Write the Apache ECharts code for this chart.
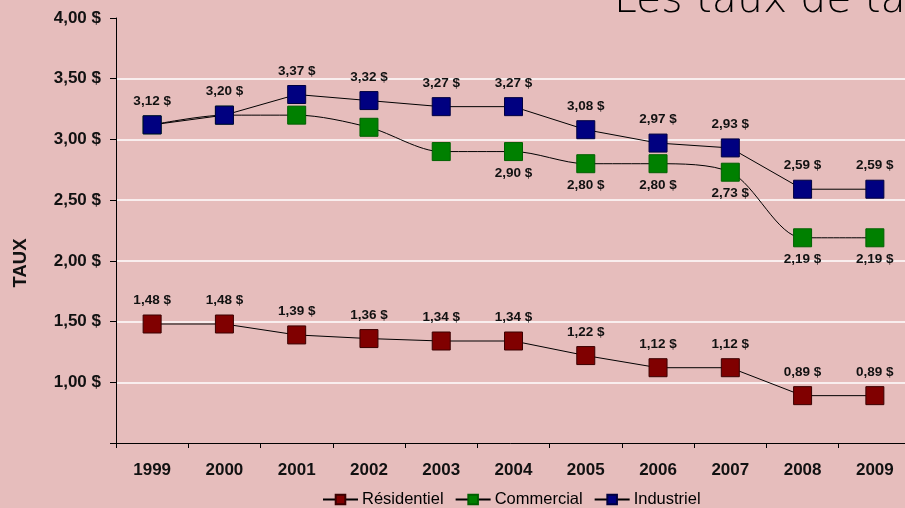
<!DOCTYPE html>
<html><head><meta charset="utf-8">
<script src="https://cdn.jsdelivr.net/npm/echarts@6/dist/echarts.min.js"></script>
<style>html,body{margin:0;padding:0;background:#e6bdbc;}#c{width:905px;height:508px;}</style>
</head><body><div id="c"></div>
<script>
const years = ['1999','2000','2001','2002','2003','2004','2005','2006','2007','2008','2009'];
const residentiel = [1.48,1.48,1.39,1.36,1.34,1.34,1.22,1.12,1.12,0.89,0.89];
const commercial = [3.12,3.20,3.20,3.10,2.90,2.90,2.80,2.80,2.73,2.19,2.19];
const industriel = [3.12,3.20,3.37,3.32,3.27,3.27,3.08,2.97,2.93,2.59,2.59];
const commercialLabelShown = [false,false,false,false,false,true,true,true,true,true,true];

const fmt = v => v.toFixed(2).replace('.', ',') + ' $';
const font = '"Liberation Sans", Arial, sans-serif';
const lbl = (pos, d) => ({show:true, position:pos, distance:d, fontFamily:font, fontSize:13.5, fontWeight:'bold', color:'#111',
  formatter: p => fmt(p.value)});

const chart = echarts.init(document.getElementById('c'));
chart.setOption({
  backgroundColor:'#e6bdbc',
  animation:false,
  title:{text:'Les taux de tarification', left:609, top:-24,
    textStyle:{fontFamily:'"DejaVu Sans", sans-serif', fontWeight:200, fontSize:41, color:'#000'}},
  graphic:[{type:'text', x:21, y:263, rotation:Math.PI/2,
    style:{text:'TAUX', fontFamily:font, fontWeight:'bold', fontSize:18.5, fill:'#111', align:'center', verticalAlign:'middle'}}],
  grid:{left:116, width:795, top:18, bottom:65, outerBoundsMode:'none', containLabel:false},
  legend:{bottom:-5, left:317, itemWidth:35, itemHeight:12, itemGap:11,
    textStyle:{fontFamily:font, fontSize:16.5, color:'#000', padding:[0,0,0,-1]},
    data:['Résidentiel','Commercial','Industriel']},
  xAxis:{type:'category', data:years, boundaryGap:true,
    axisLine:{lineStyle:{color:'#000', width:1}},
    axisTick:{show:true, length:5, lineStyle:{color:'#000'}},
    axisLabel:{fontFamily:font, fontWeight:'bold', fontSize:17, color:'#111', margin:19}},
  yAxis:{type:'value', min:0.5, max:4.0, interval:0.5,
    axisLine:{show:true, lineStyle:{color:'#000', width:1}},
    axisTick:{show:true, length:6, lineStyle:{color:'#000'}},
    axisLabel:{fontFamily:font, fontWeight:'bold', fontSize:17, color:'#111', margin:15,
      formatter: v => (Math.abs(v-0.5)<1e-6) ? '' : fmt(v)},
    splitLine:{show:true, lineStyle:{color:['rgba(0,0,0,0)','#fff','#fff','#fff','#fff','#fff','#fff','rgba(0,0,0,0)'], width:1.5}}},
  series:[
    {name:'Résidentiel', type:'line', data:residentiel, symbol:'rect', symbolSize:18,
      itemStyle:{color:'#800000', borderColor:'#3a0000', borderWidth:1},
      lineStyle:{color:'#000', width:1}, label:lbl('top', 7), z:3},
    {name:'Commercial', type:'line', smooth:0.3,
      data:commercial.map((v,i)=>({value:v, label:{show:commercialLabelShown[i]}})),
      symbol:'rect', symbolSize:18,
      itemStyle:{color:'#008000', borderColor:'#006000', borderWidth:1},
      lineStyle:{color:'#000', width:1}, label:lbl('bottom', 5), z:3},
    {name:'Industriel', type:'line', data:industriel, symbol:'rect', symbolSize:18,
      itemStyle:{color:'#000080', borderColor:'#000040', borderWidth:1},
      lineStyle:{color:'#000', width:1}, label:lbl('top', 7), z:4}
  ]
});
</script></body></html>
